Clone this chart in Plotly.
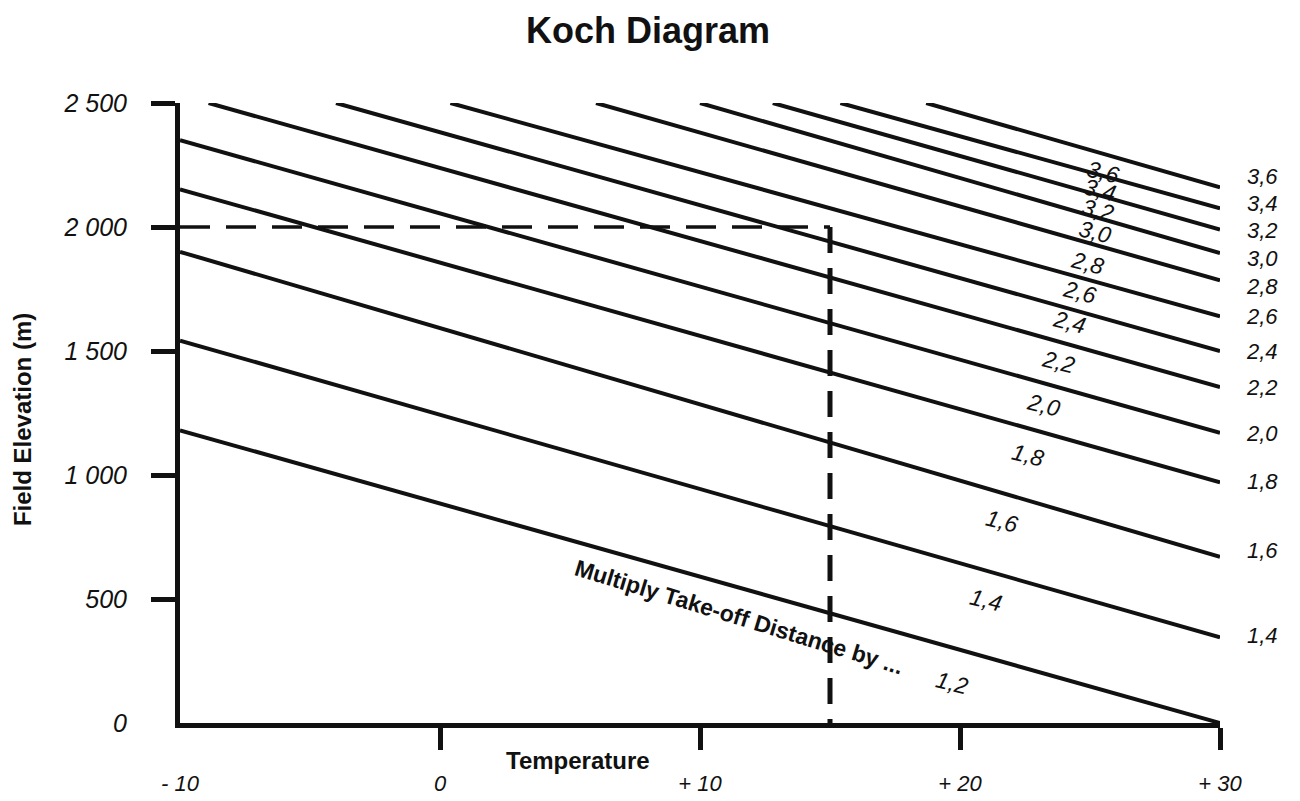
import plotly.graph_objects as go

# ---- data ----
factor_labels = ["1,2", "1,4", "1,6", "1,8", "2,0", "2,2", "2,4",
                 "2,6", "2,8", "3,0", "3,2", "3,4", "3,6"]
start_temp = [-10, -10, -10, -10, -10, -8.9, -4.0, 0.4, 6.0, 10.0, 12.8, 15.4, 18.7]
start_elev = [1180, 1542, 1900, 2152, 2350, 2500, 2500, 2500, 2500, 2500, 2500, 2500, 2500]
end_temp = [30] * 13
end_elev = [0, 345, 670, 970, 1170, 1355, 1500, 1640, 1785, 1895, 1990, 2075, 2160]

# inline factor labels (near the right part of each line)
inline_temp = [19.7, 21.0, 21.6, 22.6, 23.2, 23.8, 24.2, 24.6, 24.9, 25.2, 25.3, 25.4, 25.5]
inline_elev = [161, 496, 815, 1081, 1282, 1456, 1617, 1738, 1855, 1980, 2069, 2149, 2222]

# right-hand factor labels
right_elev = [0, 351, 694, 972, 1169, 1351, 1496, 1641, 1762, 1872, 1984, 2094, 2204]

# worked example (dashed)
example_temp = [-10, 15, 15]
example_elev = [2000, 2000, 0]

x_tick_vals = [-10, 0, 10, 20, 30]
x_tick_text = ["- 10", "0", "+ 10", "+ 20", "+ 30"]
x_tick_marks = [0, 10, 20, 30]
y_tick_vals = [0, 500, 1000, 1500, 2000, 2500]
y_tick_text = ["0", "500", "1 000", "1 500", "2 000", "2 500"]
y_tick_marks = [500, 1000, 1500, 2000, 2500]

FONT = "Liberation Sans, Arial, sans-serif"
INK = "#111111"

fig = go.Figure()

for i in range(len(factor_labels)):
    fig.add_trace(go.Scatter(
        x=[start_temp[i], end_temp[i]], y=[start_elev[i], end_elev[i]],
        mode="lines", line=dict(color=INK, width=4),
        showlegend=False, hoverinfo="skip"))

# dashed example: horizontal then vertical
fig.add_trace(go.Scatter(
    x=example_temp[:2], y=example_elev[:2], mode="lines",
    line=dict(color=INK, width=3.5, dash="30px,16px"),
    xaxis="x2", yaxis="y2", showlegend=False, hoverinfo="skip"))
fig.add_trace(go.Scatter(
    x=example_temp[1:], y=example_elev[1:], mode="lines",
    line=dict(color=INK, width=5, dash="26px,15px"),
    xaxis="x2", yaxis="y2", showlegend=False, hoverinfo="skip"))

# inline labels
for i, lab in enumerate(factor_labels):
    fig.add_annotation(x=inline_temp[i], y=inline_elev[i], text=lab,
                       showarrow=False, textangle=14,
                       font=dict(family=FONT, size=23, color=INK, style="italic"))
# right labels
for i, lab in enumerate(factor_labels):
    if i == 0:
        continue
    fig.add_annotation(x=end_temp[i], y=right_elev[i], text=lab,
                       showarrow=False, xshift=42,
                       font=dict(family=FONT, size=22, color=INK, style="italic"))

fig.add_annotation(x=11.5, y=427, text="Multiply Take-off Distance by ...",
                   showarrow=False, textangle=17,
                   font=dict(family=FONT, size=23, color=INK, weight="bold"))

fig.add_annotation(x=5.3, xref="x", y=-0.06, yref="paper", yanchor="middle",
                   xanchor="center", text="Temperature", showarrow=False,
                   font=dict(family=FONT, size=24, color=INK, weight="bold"))
fig.add_annotation(x=-0.152, xref="paper", y=0.49, yref="paper",
                   xanchor="center", yanchor="middle",
                   text="Field Elevation (m)", showarrow=False, textangle=-90,
                   font=dict(family=FONT, size=24, color=INK, weight="bold"))

axis_common = dict(showgrid=False, zeroline=False, automargin=False)
fig.update_layout(
    width=1292, height=793,
    margin=dict(l=172, r=80, t=95, b=78, autoexpand=False),
    paper_bgcolor="white", plot_bgcolor="white",
    title=dict(text="Koch Diagram", x=(648 - 8) / 1292, xanchor="center",
               y=1 - 22 / 793, yanchor="middle", yref="container",
               font=dict(family=FONT, size=36, color=INK, weight="bold")),
    xaxis=dict(range=[-10, 30], tickmode="array", tickvals=x_tick_marks,
               showticklabels=False, ticks="outside", ticklen=22, tickwidth=5,
               tickcolor=INK, showline=True, linewidth=5, linecolor=INK,
               **axis_common),
    yaxis=dict(range=[0, 2500], tickmode="array", tickvals=y_tick_marks,
               showticklabels=False, ticks="outside", ticklen=24, tickwidth=5,
               tickcolor=INK, showline=True, linewidth=5, linecolor=INK,
               **axis_common),
    xaxis2=dict(range=[-10, 30], overlaying="x", anchor="y2", side="bottom",
                tickmode="array", tickvals=x_tick_vals, ticktext=x_tick_text,
                ticks="", showline=False, ticklabelstandoff=45,
                tickfont=dict(family=FONT, size=22, color=INK, style="italic"),
                **axis_common),
    yaxis2=dict(range=[0, 2500], overlaying="y", anchor="x2", side="left",
                tickmode="array", tickvals=y_tick_vals, ticktext=y_tick_text,
                ticks="", showline=False, ticklabelstandoff=52,
                tickfont=dict(family=FONT, size=25, color=INK, style="italic"),
                **axis_common),
)

fig.write_html("out.html")
